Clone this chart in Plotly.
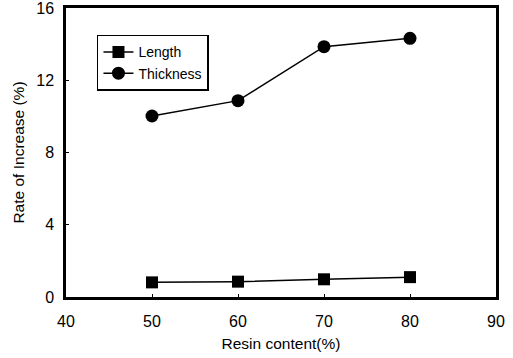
import plotly.graph_objects as go

resin = [50, 60, 70, 80]
length = [0.81, 0.85, 0.98, 1.10]
thickness = [10.02, 10.87, 13.86, 14.32]
x_ticks = [40, 50, 60, 70, 80, 90]
y_ticks = [0, 4, 8, 12, 16]

fig = go.Figure()
fig.add_trace(go.Scatter(x=resin, y=length, mode="lines+markers", name="Length",
                         line=dict(color="black", width=1.5),
                         marker=dict(symbol="square", size=12, color="black")))
fig.add_trace(go.Scatter(x=resin, y=thickness, mode="lines+markers", name="Thickness",
                         line=dict(color="black", width=1.5),
                         marker=dict(symbol="circle", size=13, color="black")))

font = "Liberation Sans, Arial, sans-serif"
fig.update_layout(
    width=513, height=358,
    margin=dict(l=66, r=17, t=8, b=61, autoexpand=False),
    paper_bgcolor="white", plot_bgcolor="white",
    font=dict(family=font, color="black", size=12),
    showlegend=True,
    legend=dict(x=0.072, y=0.907, xanchor="left", yanchor="top",
                bordercolor="black", borderwidth=1.5, bgcolor="white",
                font=dict(size=14, family=font), tracegroupgap=2,
                itemwidth=30),
)
fig.update_xaxes(range=[40, 90], tickvals=x_ticks, showgrid=False, zeroline=False,
                 showline=True, linecolor="black", linewidth=2.5, mirror=True,
                 ticks="inside", ticklen=3, tickcolor="black", automargin=False,
                 ticklabelstandoff=8, ticklabeloverflow="allow",
                 tickfont=dict(size=16, family=font),
                 title=dict(text="Resin content(%)", font=dict(size=15.5, family=font), standoff=10))
fig.update_yaxes(range=[0, 16], tickvals=y_ticks, showgrid=False, zeroline=False,
                 showline=True, linecolor="black", linewidth=2.5, mirror=True,
                 ticks="inside", ticklen=3, tickcolor="black", automargin=False,
                 ticklabelstandoff=6, ticklabeloverflow="allow",
                 tickfont=dict(size=16, family=font),
                 title=dict(text="Rate of Increase (%)", font=dict(size=15.5, family=font), standoff=8))

fig.write_html("out.html")
